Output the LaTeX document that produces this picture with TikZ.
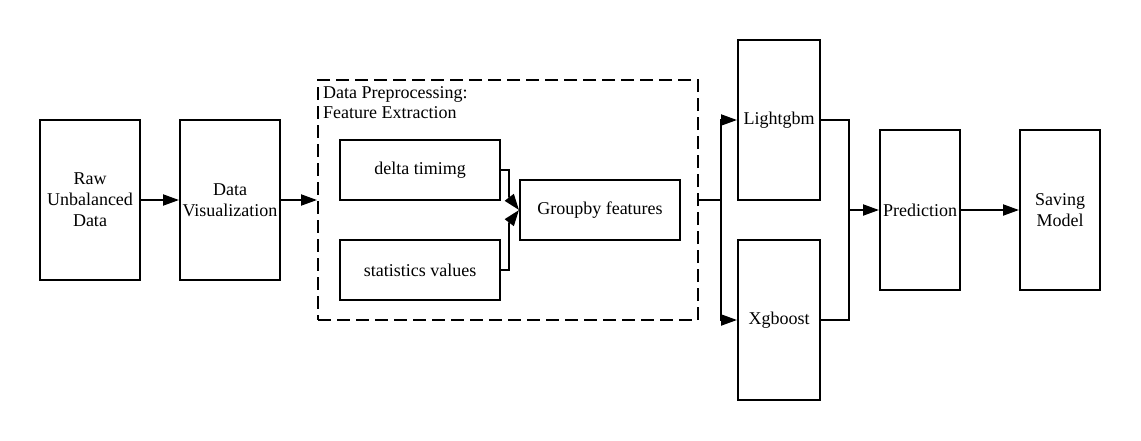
\documentclass[tikz,border=0pt]{standalone}
\usepackage{fontspec}
\setmainfont{Liberation Serif}
\usetikzlibrary{arrows.meta,calc}
\begin{document}
\begin{tikzpicture}[x=1pt,y=-1pt,
  box/.style={draw,line width=2pt,rectangle,inner sep=2pt,align=center,font=\fontsize{18}{21}\selectfont},
  arr/.style={line width=2pt,-{Triangle[length=16pt 0,width=11pt 0]}},
  ln/.style={line width=2pt}]
\useasboundingbox (0,0) rectangle (1141,440);
\node[box,minimum width=100pt,minimum height=160pt] (raw) at (90,200) {Raw\\Unbalanced\\Data};
\node[box,minimum width=100pt,minimum height=160pt] (viz) at (230,200) {Data\\Visualization};
\node[draw,line width=2pt,dash pattern=on 13pt off 6pt,minimum width=380pt,minimum height=240pt,inner sep=0pt] (prep) at (508,200) {};
\node[anchor=north west,align=left,inner sep=0pt,font=\fontsize{18}{20}\selectfont] (lbl) at (323,86) {Data Preprocessing:\\Feature Extraction};
\node[box,minimum width=160pt,minimum height=60pt] (delta) at (420,170) {delta timimg};
\node[box,minimum width=160pt,minimum height=60pt] (stats) at (420,270) {statistics values};
\node[box,minimum width=160pt,minimum height=60pt] (group) at (600,210) {Groupby features};
\node[box,minimum width=82pt,minimum height=160pt] (light) at (779,120) {Lightgbm};
\node[box,minimum width=82pt,minimum height=160pt] (xg) at (779,320) {Xgboost};
\node[box,minimum width=80pt,minimum height=160pt] (pred) at (920,210) {Prediction};
\node[box,minimum width=80pt,minimum height=160pt] (save) at (1060,210) {Saving\\Model};
\coordinate (split) at ([xshift=22pt]prep.east);
\coordinate (join) at ([xshift=-30pt]pred.west);
\coordinate (dj) at ([xshift=-10pt,yshift=13pt]group.west);
\coordinate (sj) at ([xshift=-10pt,yshift=-13pt]group.west);
\draw[arr] (raw.east) -- (viz.west);
\draw[arr] (viz.east) -- (prep.west);
\draw[ln] (delta.east) -| (dj);
\draw[arr] (dj) -- (group.west);
\draw[ln] (stats.east) -| (sj);
\draw[arr] (sj) -- (group.west);
\draw[ln] (prep.east) -- (split);
\draw[arr] (split) |- (light.west);
\draw[arr] (split) |- (xg.west);
\draw[ln] (light.east) -| (join) |- (xg.east);
\draw[arr] (join) -- (pred.west);
\draw[arr] (pred.east) -- (save.west);
\end{tikzpicture}
\end{document}
